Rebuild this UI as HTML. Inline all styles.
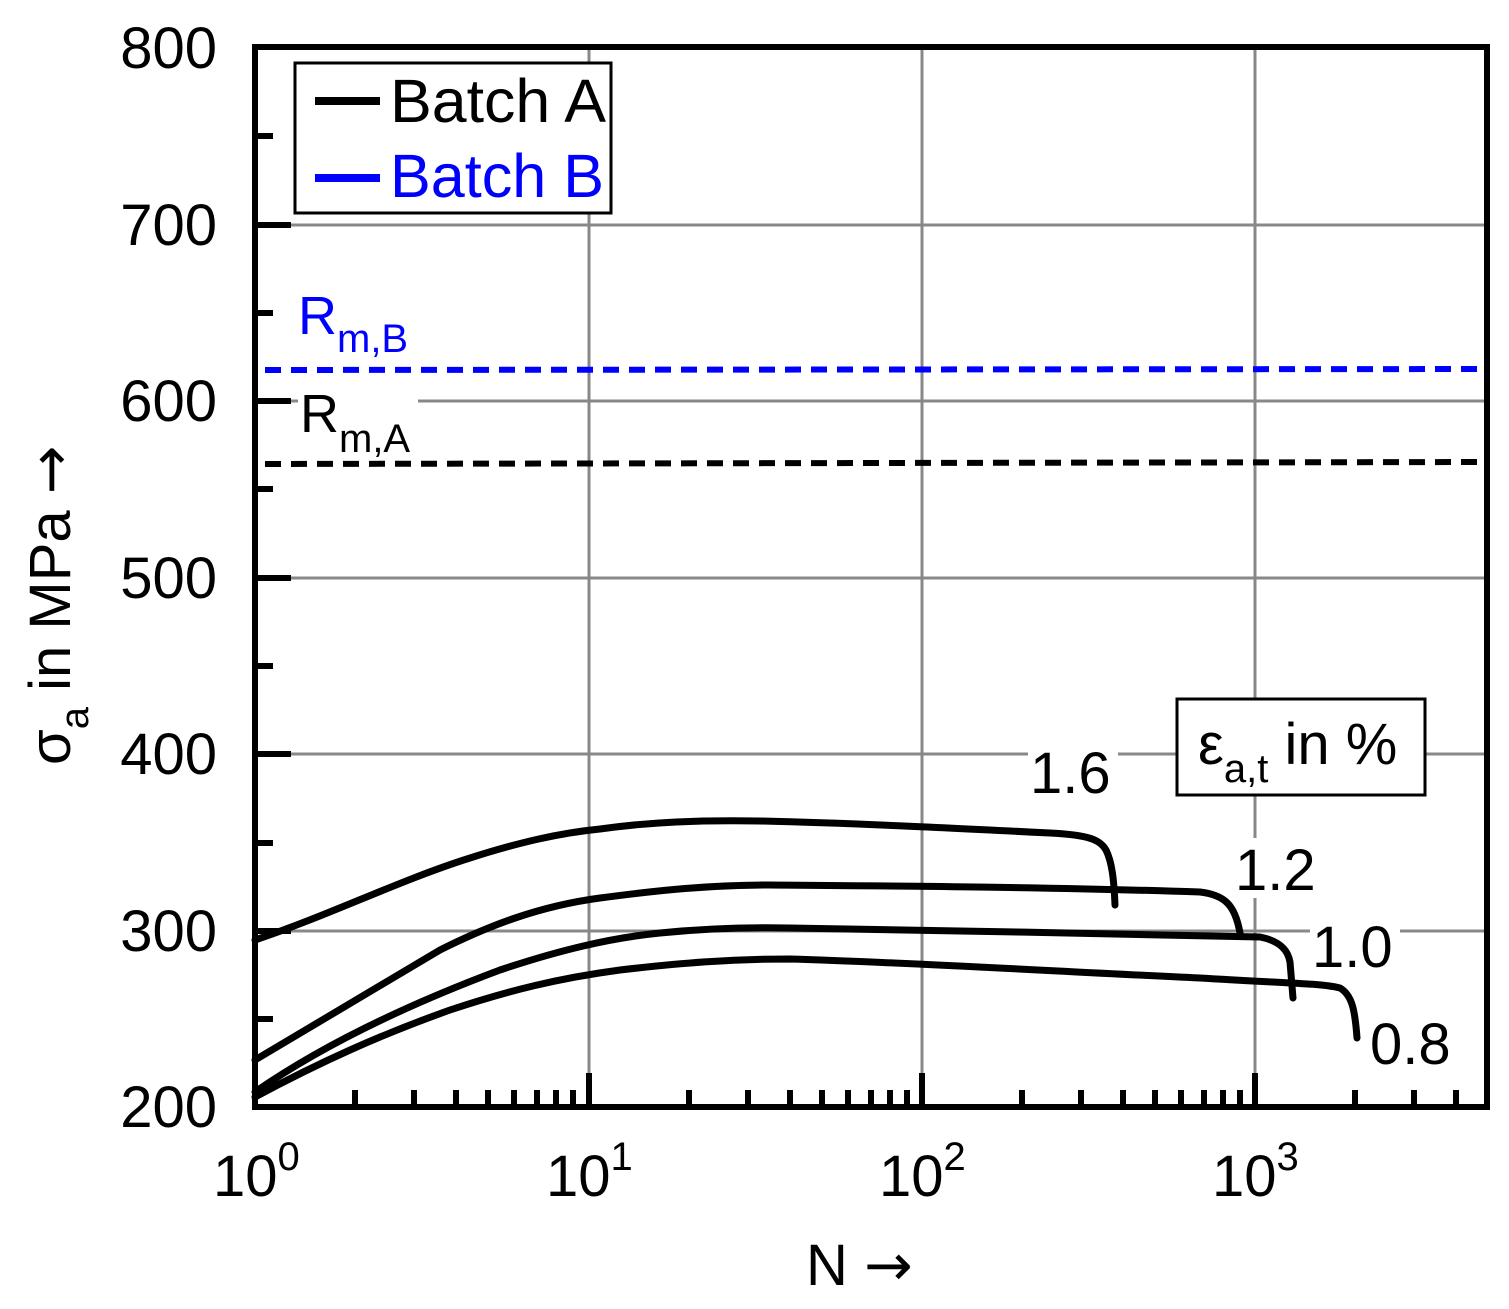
<!DOCTYPE html>
<html><head><meta charset="utf-8"><style>
html,body{margin:0;padding:0;background:#fff;}
svg{display:block;font-family:"Liberation Sans",Arial,sans-serif;}
</style></head><body>
<svg width="1509" height="1309" viewBox="0 0 1509 1309" xmlns="http://www.w3.org/2000/svg">
<rect width="1509" height="1309" fill="#fff"/>
<g stroke="#888" stroke-width="3">
<line x1="589" y1="48" x2="589" y2="1107"/>
<line x1="922" y1="48" x2="922" y2="1107"/>
<line x1="1255" y1="48" x2="1255" y2="1107"/>
<line x1="255" y1="225" x2="1487" y2="225"/>
<line x1="255" y1="401" x2="1487" y2="401"/>
<line x1="255" y1="578" x2="1487" y2="578"/>
<line x1="255" y1="754" x2="1487" y2="754"/>
<line x1="255" y1="931" x2="1487" y2="931"/>
</g>
<rect x="1028" y="735" width="90" height="60" fill="#fff"/>
<rect x="1232" y="838" width="88" height="60" fill="#fff"/>
<rect x="1310" y="915" width="90" height="60" fill="#fff"/>
<rect x="298" y="385" width="120" height="70" fill="#fff"/>
<g stroke="#000" stroke-width="6">
<line x1="255" y1="225" x2="291" y2="225"/>
<line x1="255" y1="401" x2="291" y2="401"/>
<line x1="255" y1="578" x2="291" y2="578"/>
<line x1="255" y1="754" x2="291" y2="754"/>
<line x1="255" y1="931" x2="291" y2="931"/>
<line x1="255" y1="136" x2="273" y2="136"/>
<line x1="255" y1="313" x2="273" y2="313"/>
<line x1="255" y1="489" x2="273" y2="489"/>
<line x1="255" y1="666" x2="273" y2="666"/>
<line x1="255" y1="843" x2="273" y2="843"/>
<line x1="255" y1="1019" x2="273" y2="1019"/>
<line x1="589" y1="1107" x2="589" y2="1073"/>
<line x1="922" y1="1107" x2="922" y2="1073"/>
<line x1="1255" y1="1107" x2="1255" y2="1073"/>
<line x1="355" y1="1107" x2="355" y2="1090"/><line x1="414" y1="1107" x2="414" y2="1090"/><line x1="456" y1="1107" x2="456" y2="1090"/><line x1="488" y1="1107" x2="488" y2="1090"/><line x1="514" y1="1107" x2="514" y2="1090"/><line x1="537" y1="1107" x2="537" y2="1090"/><line x1="556" y1="1107" x2="556" y2="1090"/><line x1="573" y1="1107" x2="573" y2="1090"/>
<line x1="689" y1="1107" x2="689" y2="1090"/><line x1="748" y1="1107" x2="748" y2="1090"/><line x1="790" y1="1107" x2="790" y2="1090"/><line x1="822" y1="1107" x2="822" y2="1090"/><line x1="848" y1="1107" x2="848" y2="1090"/><line x1="871" y1="1107" x2="871" y2="1090"/><line x1="890" y1="1107" x2="890" y2="1090"/><line x1="907" y1="1107" x2="907" y2="1090"/>
<line x1="1022" y1="1107" x2="1022" y2="1090"/><line x1="1081" y1="1107" x2="1081" y2="1090"/><line x1="1123" y1="1107" x2="1123" y2="1090"/><line x1="1155" y1="1107" x2="1155" y2="1090"/><line x1="1181" y1="1107" x2="1181" y2="1090"/><line x1="1204" y1="1107" x2="1204" y2="1090"/><line x1="1223" y1="1107" x2="1223" y2="1090"/><line x1="1240" y1="1107" x2="1240" y2="1090"/>
<line x1="1355" y1="1107" x2="1355" y2="1090"/><line x1="1414" y1="1107" x2="1414" y2="1090"/><line x1="1456" y1="1107" x2="1456" y2="1090"/>
</g>
<line x1="265" y1="370" x2="1487" y2="369" stroke="#0000ff" stroke-width="6" stroke-dasharray="16,10"/>
<line x1="265" y1="464" x2="1487" y2="462" stroke="#000" stroke-width="6" stroke-dasharray="16,10"/>
<text x="298" y="334" font-size="54" fill="#0000ff">R<tspan font-size="40" dy="18">m,B</tspan></text>
<text x="300" y="432" font-size="54" fill="#000">R<tspan font-size="40" dy="20">m,A</tspan></text>
<g fill="none" stroke="#000" stroke-width="7" stroke-linejoin="round" stroke-linecap="round">
<path d="M255,940 C330,915 400,880 470,858 C520,842 560,833 600,829 C650,822 700,820 760,821 C850,823 950,828 1050,833 C1090,835 1100,840 1106,850 C1112,862 1114,880 1115,905"/>
<path d="M255,1060 C320,1022 380,985 440,950 C490,925 540,906 600,898 C660,890 710,885 770,885 C900,886 1050,887 1200,892 C1225,895 1235,905 1240,933"/>
<path d="M255,1092 C330,1040 420,1000 500,970 C560,950 610,938 660,933 C700,929 740,927 790,928 C950,931 1100,933 1260,937 C1280,941 1288,950 1290,962 L1293,998"/>
<path d="M255,1097 C320,1062 380,1035 450,1010 C510,990 560,978 620,970 C680,963 730,959 790,959 C900,962 1050,971 1200,978 C1280,983 1320,983 1340,988 C1352,995 1355,1010 1357,1038"/>
</g>
<rect x="255" y="47" width="1232" height="1060" fill="none" stroke="#000" stroke-width="6"/>
<rect x="295" y="63" width="316" height="150" fill="#fff" stroke="#000" stroke-width="3"/>
<line x1="315" y1="101" x2="380" y2="101" stroke="#000" stroke-width="8"/>
<line x1="315" y1="178" x2="380" y2="178" stroke="#0000ff" stroke-width="8"/>
<text x="390" y="122" font-size="61" fill="#000" textLength="216" lengthAdjust="spacingAndGlyphs">Batch A</text>
<text x="390" y="197" font-size="61" fill="#0000ff" textLength="214" lengthAdjust="spacingAndGlyphs">Batch B</text>
<rect x="1177" y="699" width="248" height="96" fill="#fff" stroke="#000" stroke-width="3"/>
<text x="1198" y="764" font-size="58">ε<tspan font-size="40" dy="18">a,t</tspan><tspan dy="-18"> in %</tspan></text>
<g font-size="58">
<text x="1030" y="793">1.6</text>
<text x="1235" y="890">1.2</text>
<text x="1312" y="967">1.0</text>
<text x="1370" y="1064">0.8</text>
</g>
<g font-size="58" text-anchor="end">
<text x="217" y="68">800</text>
<text x="217" y="245">700</text>
<text x="217" y="421">600</text>
<text x="217" y="598">500</text>
<text x="217" y="774">400</text>
<text x="217" y="951">300</text>
<text x="217" y="1127">200</text>
</g>
<g font-size="58">
<text x="213" y="1196">10<tspan font-size="40" dy="-26">0</tspan></text>
<text x="546" y="1196">10<tspan font-size="40" dy="-26">1</tspan></text>
<text x="879" y="1196">10<tspan font-size="40" dy="-26">2</tspan></text>
<text x="1212" y="1196">10<tspan font-size="40" dy="-26">3</tspan></text>
</g>
<text x="806" y="1285" font-size="58">N <tspan font-family="DejaVu Sans" font-size="58">→</tspan></text>
<text transform="translate(70,765) rotate(-90)" font-size="58">σ<tspan font-size="40" dy="18">a</tspan><tspan dy="-18"> in MPa </tspan><tspan font-family="DejaVu Sans">→</tspan></text>
</svg>
</body></html>
